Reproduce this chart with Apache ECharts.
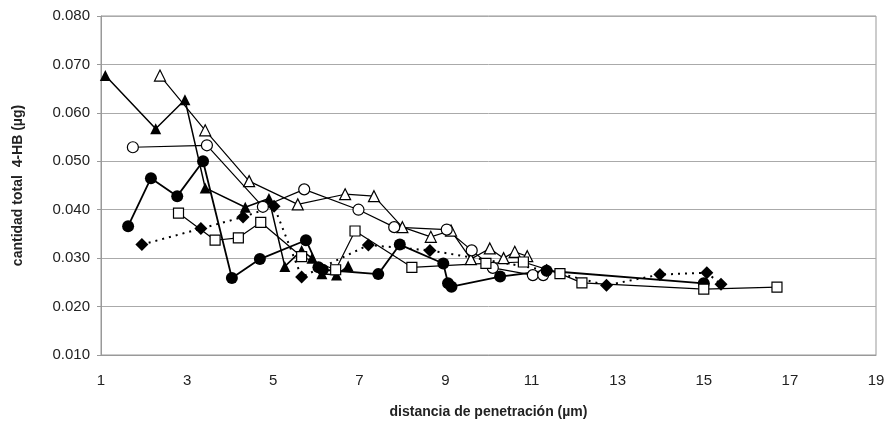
<!DOCTYPE html>
<html>
<head>
<meta charset="utf-8">
<script src="https://cdn.jsdelivr.net/npm/echarts@6/dist/echarts.min.js"></script>
<style>
  html, body { margin: 0; padding: 0; background: #fff; }
  #chart { width: 891px; height: 427px; }
</style>
</head>
<body>
<div id="chart"></div>
<script>
// Penetration profiles: [depth (µm), total 4-HB (µg)]
const filledTriangles = [[1.1,0.0677],[2.27,0.0567],[2.95,0.0627],[3.42,0.0445],[4.35,0.0405],[4.9,0.0423],[5.27,0.0283],[5.66,0.0316],[5.9,0.0300],[6.13,0.0268],[6.47,0.0265],[6.74,0.0284]];
const openTriangles = [[2.37,0.0677],[3.42,0.0564],[4.44,0.0459],[5.57,0.0411],[6.67,0.0432],[7.34,0.0428],[8.0,0.0364],[8.66,0.0344],[9.13,0.0357],[9.59,0.0298],[10.03,0.0320],[10.35,0.0300],[10.61,0.0313],[10.9,0.0304]];
const openCircles = [[1.74,0.0529],[3.46,0.0533],[4.76,0.0406],[5.72,0.0442],[6.98,0.0400],[7.81,0.0364],[9.03,0.0359],[9.61,0.0316],[10.1,0.0280],[11.03,0.0265],[11.27,0.0265]];
const filledCircles = [[1.63,0.0366],[2.16,0.0465],[2.77,0.0428],[3.37,0.0500],[4.04,0.0259],[4.69,0.0298],[5.76,0.0337],[6.05,0.0281],[6.15,0.0276],[7.44,0.0267],[7.94,0.0328],[8.95,0.0289],[9.06,0.0248],[9.14,0.0241],[10.27,0.0262],[11.35,0.0274],[15.0,0.0248]];
const diamonds = [[1.95,0.0328],[3.32,0.0361],[4.30,0.0385],[5.02,0.0407],[5.66,0.0261],[7.21,0.0327],[8.64,0.0316],[11.35,0.0275],[12.74,0.0244],[13.98,0.0266],[15.07,0.0270],[15.4,0.0246]];
const openSquares = [[2.8,0.0393],[3.65,0.0337],[4.19,0.0342],[4.71,0.0374],[5.66,0.0303],[6.45,0.0276],[6.9,0.0356],[8.22,0.0281],[9.94,0.0289],[10.81,0.0292],[11.66,0.0268],[12.17,0.0249],[15.0,0.0236],[16.7,0.0240]];

const xTicks = { min: 1, max: 19, step: 2 };
const yTicks = { min: 0.01, max: 0.08, step: 0.01 };

const FONT = '"Liberation Sans", Arial, sans-serif';

function lineSeries(name, data, symbol, filled, size, width, dashed) {
  return {
    name: name,
    type: 'line',
    data: data,
    symbol: symbol,
    symbolSize: size,
    showAllSymbol: true,
    animation: false,
    lineStyle: { color: '#000', width: width, type: dashed ? [2, 5] : 'solid' },
    itemStyle: { color: filled ? '#000' : '#fff', borderColor: '#000', borderWidth: filled ? 0 : 1.2 },
    z: 3
  };
}

const chart = echarts.init(document.getElementById('chart'), null, { renderer: 'canvas' });
chart.setOption({
  backgroundColor: '#fff',
  animation: false,
  textStyle: { fontFamily: FONT },
  grid: { left: 101, right: 15, top: 16, bottom: 72, show: true, borderColor: '#999', borderWidth: 1 },
  xAxis: {
    type: 'value',
    min: xTicks.min, max: xTicks.max, interval: xTicks.step,
    name: 'distancia de penetración (µm)',
    nameLocation: 'middle', nameGap: 50,
    nameTextStyle: { fontFamily: FONT, fontSize: 14, fontWeight: 'bold', color: '#222' },
    axisLine: { show: true, onZero: false, lineStyle: { color: '#999' } },
    axisTick: { show: false },
    splitLine: { show: false },
    axisLabel: { fontFamily: FONT, fontSize: 15, color: '#222', margin: 18 }
  },
  yAxis: {
    type: 'value',
    min: yTicks.min, max: yTicks.max, interval: yTicks.step,
    name: 'cantidad total  4-HB (µg)',
    nameLocation: 'middle', nameGap: 76, nameRotate: 90,
    nameTextStyle: { fontFamily: FONT, fontSize: 14, fontWeight: 'bold', color: '#222' },
    axisLine: { show: true, lineStyle: { color: '#999' } },
    axisTick: { show: true, inside: false, length: 4, lineStyle: { color: '#999' } },
    splitLine: { show: true, lineStyle: { color: '#aaa', width: 1 } },
    axisLabel: { fontFamily: FONT, fontSize: 15, color: '#222', margin: 11,
      formatter: v => v.toFixed(3) }
  },
  series: [
    lineSeries('filledTriangles', filledTriangles, 'triangle', true, 11, 1.5, false),
    lineSeries('openTriangles', openTriangles, 'triangle', false, 11, 1.2, false),
    lineSeries('openCircles', openCircles, 'circle', false, 11, 1.2, false),
    lineSeries('filledCircles', filledCircles, 'circle', true, 12, 1.8, false),
    lineSeries('diamonds', diamonds, 'diamond', true, 13, 2, true),
    lineSeries('openSquares', openSquares, 'rect', false, 10, 1.2, false)
  ]
});
</script>
</body>
</html>
